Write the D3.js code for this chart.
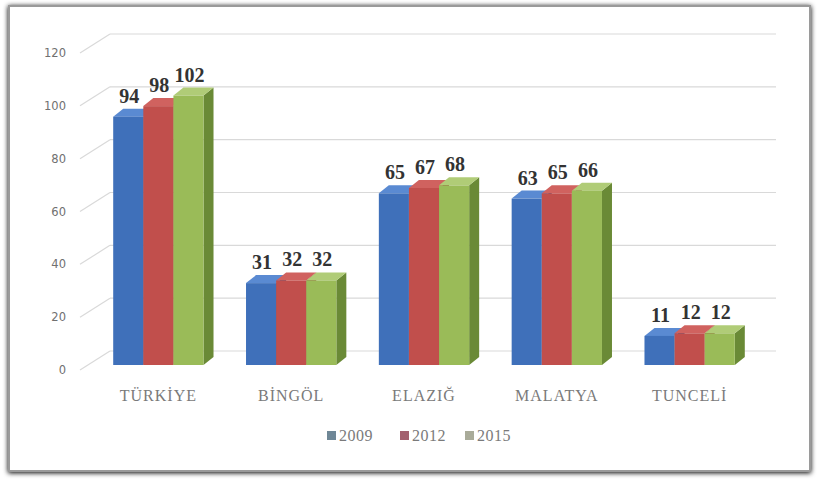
<!DOCTYPE html>
<html>
<head>
<meta charset="utf-8">
<script src="https://cdn.jsdelivr.net/npm/d3@7"></script>
<style>
  body { margin: 0; background: #fff; }
</style>
</head>
<body>
<div id="chart"></div>
<script>
// data
const categories = ["TÜRKİYE", "BİNGÖL", "ELAZIĞ", "MALATYA", "TUNCELİ"];
const seriesNames = ["2009", "2012", "2015"];
const values2009 = [94, 31, 65, 63, 11];
const values2012 = [98, 32, 67, 65, 12];
const values2015 = [102, 32, 68, 66, 12];
const yTicks = [0, 20, 40, 60, 80, 100, 120];

const seriesValues = [values2009, values2012, values2015];
const front = ["#3f70ba", "#c14f4c", "#9abb58"];
const top_ = ["#5a8ad2", "#d0625f", "#b0cc77"];
const side = ["#2c568f", "#8f3431", "#6a8a36"];
const legendColors = ["#6f8796", "#a3606e", "#a9ab99"];

const W = 818, H = 480;
const svg = d3.select("#chart").append("svg")
    .attr("width", W).attr("height", H);

// frame with soft shadow
const defs = svg.append("defs");
const f = defs.append("filter").attr("id", "sh").attr("x", "-5%").attr("y", "-5%")
    .attr("width", "110%").attr("height", "110%");
f.append("feGaussianBlur").attr("in", "SourceAlpha").attr("stdDeviation", 2.5).attr("result", "b");
f.append("feOffset").attr("in", "b").attr("dx", 0).attr("dy", 1).attr("result", "o");
const fm = f.append("feMerge");
fm.append("feMergeNode").attr("in", "o");
fm.append("feMergeNode").attr("in", "SourceGraphic");

svg.append("rect")
    .attr("x", 9).attr("y", 6).attr("width", 801).attr("height", 465)
    .attr("fill", "#fff").attr("stroke", "#9a9a9a").attr("stroke-width", 2)
    .attr("filter", "url(#sh)");

// scales
const y = d3.scaleLinear().domain([0, 120]).range([370, 53]);
const x0 = d3.scaleBand().domain(categories).range([80, 768])
    .paddingInner(0.32).paddingOuter(0.25);
const x1 = d3.scaleBand().domain(seriesNames).range([0, x0.bandwidth()]);

// wall depth and bar depth
const wallDx = 30, wallDy = -19;
const barOffY = -5;
const bdx = 10, bdy = -8;

// gridlines (back wall + floor diagonals)
const grid = svg.append("g");
yTicks.forEach(t => {
    grid.append("line")
        .attr("x1", 80 + wallDx).attr("x2", 776)
        .attr("y1", y(t) + wallDy).attr("y2", y(t) + wallDy)
        .attr("stroke", "#d9d9d9").attr("stroke-width", 1.2);
    grid.append("line")
        .attr("x1", 80).attr("x2", 80 + wallDx)
        .attr("y1", y(t)).attr("y2", y(t) + wallDy)
        .attr("stroke", "#d9d9d9").attr("stroke-width", 1.2);
});

// y tick labels
svg.append("g").selectAll("text")
    .data(yTicks).enter().append("text")
    .attr("x", 66).attr("y", d => y(d) + 4)
    .attr("text-anchor", "end")
    .attr("font-family", "DejaVu Sans, sans-serif")
    .attr("font-size", 11.5)
    .attr("fill", "#707070")
    .text(d => d);

// bars
const groups = svg.append("g").selectAll("g")
    .data(categories).enter().append("g")
    .attr("transform", c => `translate(${x0(c)},${barOffY})`);

groups.each(function(c, ci) {
    const g = d3.select(this);
    seriesNames.forEach((s, si) => {
        const v = seriesValues[si][ci];
        const bx = x1(s), bw = x1.bandwidth();
        const ty = y(v), by = y(0);
        // side face
        g.append("polygon")
            .attr("points", [[bx + bw, ty], [bx + bw + bdx, ty + bdy], [bx + bw + bdx, by + bdy], [bx + bw, by]].join(" "))
            .attr("fill", side[si]);
        // top face
        g.append("polygon")
            .attr("points", [[bx, ty], [bx + bdx, ty + bdy], [bx + bw + bdx, ty + bdy], [bx + bw, ty]].join(" "))
            .attr("fill", top_[si]);
        // front face
        g.append("rect")
            .attr("x", bx).attr("y", ty)
            .attr("width", bw).attr("height", by - ty)
            .attr("fill", front[si]);
    });
});

// value labels
groups.each(function(c, ci) {
    const g = d3.select(this);
    seriesNames.forEach((s, si) => {
        const v = seriesValues[si][ci];
        g.append("text")
            .attr("x", x1(s) + x1.bandwidth() / 2 + 1)
            .attr("y", y(v) - 14)
            .attr("text-anchor", "middle")
            .attr("font-family", "Liberation Serif, serif")
            .attr("font-weight", "bold")
            .attr("font-size", 20)
            .attr("fill", "#333")
            .text(v);
    });
});

// category labels
svg.append("g").selectAll("text")
    .data(categories).enter().append("text")
    .attr("x", c => x0(c) + x0.bandwidth() / 2)
    .attr("y", 401)
    .attr("text-anchor", "middle")
    .attr("font-family", "Liberation Serif, serif")
    .attr("font-size", 16)
    .attr("letter-spacing", 1)
    .attr("fill", "#7a7a7a")
    .text(c => c);

// legend
const legendX = [327, 400, 465];
const legend = svg.append("g").selectAll("g")
    .data(seriesNames).enter().append("g")
    .attr("transform", (d, i) => `translate(${legendX[i]},441)`);
legend.append("rect")
    .attr("x", 0).attr("y", -10).attr("width", 9).attr("height", 9)
    .attr("fill", (d, i) => legendColors[i]);
legend.append("text")
    .attr("x", 12).attr("y", 0)
    .attr("font-family", "Liberation Serif, serif")
    .attr("font-size", 16)
    .attr("letter-spacing", 0.5)
    .attr("fill", "#7a7a7a")
    .text(d => d);
</script>
</body>
</html>
